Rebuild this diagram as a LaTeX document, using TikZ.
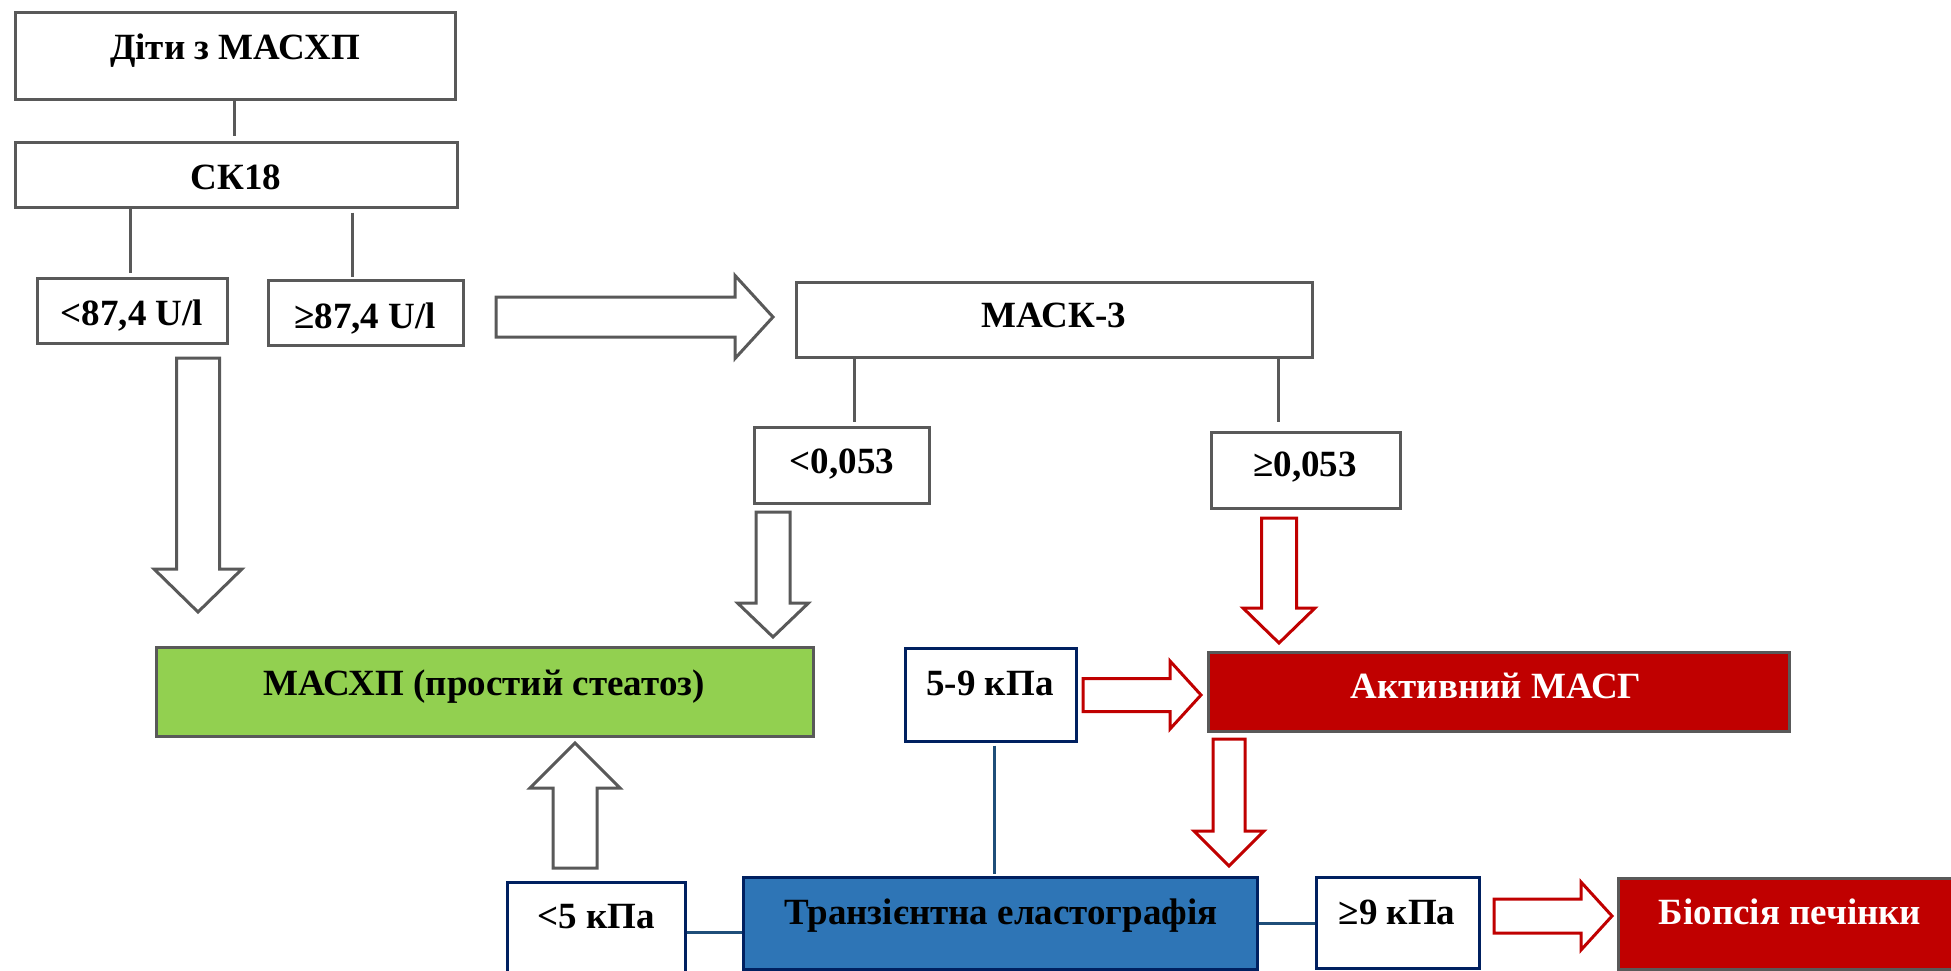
\documentclass[tikz,border=0pt]{standalone}
\usepackage{fontspec}
\setmainfont{Liberation Serif}
\definecolor{gline}{HTML}{595959}
\definecolor{rred}{HTML}{C00000}
\definecolor{gfill}{HTML}{92D050}
\definecolor{tefill}{HTML}{2E75B6}
\definecolor{navy}{HTML}{002060}
\definecolor{bline}{HTML}{1F4E79}
\newcommand\mkbox[6]{\node[#1, minimum width={#5-#3}, minimum height={#6-#4}] (#2) at ({(#3+#5)/2},{(#4+#6)/2}) {};}
% vertical fat arrow: style, cx, ytail, ybase, ytip, shafthalf, headhalf
\newcommand\vfat[7]{\draw[#1] ({#2-#6},{#3}) -- ({#2+#6},{#3}) -- ({#2+#6},{#4}) -- ({#2+#7},{#4}) -- ({#2},{#5}) -- ({#2-#7},{#4}) -- ({#2-#6},{#4}) -- cycle;}
% horizontal fat arrow: style, cy, xtail, xbase, xtip, shafthalf, headhalf
\newcommand\hfat[7]{\draw[#1] ({#3},{#2-#6}) -- ({#3},{#2+#6}) -- ({#4},{#2+#6}) -- ({#4},{#2+#7}) -- ({#5},{#2}) -- ({#4},{#2-#7}) -- ({#4},{#2-#6}) -- cycle;}
\begin{document}
\begin{tikzpicture}[x=1pt,y=-1pt,
  gbox/.style={draw=gline, line width=3pt, fill=white, rectangle, inner sep=0pt},
  nbox/.style={draw=navy, line width=3pt, fill=white, rectangle, inner sep=0pt},
  greenbox/.style={gbox, fill=gfill},
  redbox/.style={gbox, fill=rred},
  tebox/.style={nbox, fill=tefill},
  txt/.style={anchor=base, inner sep=0pt, font=\fontsize{37}{41}\selectfont\bfseries},
  wtxt/.style={txt, text=white},
  conn/.style={draw=gline, line width=3pt},
  bconn/.style={draw=bline, line width=3pt},
  garrow/.style={draw=gline, line width=3pt, fill=white, line join=miter},
  rarrow/.style={draw=rred, line width=3pt, fill=white, line join=miter}]
\useasboundingbox (0,0) rectangle (1951,971);
\clip (0,0) rectangle (1951,971);

% boxes
\mkbox{gbox}{b1}{15}{13}{455}{100}
\mkbox{gbox}{b2}{15}{143}{457}{207}
\mkbox{gbox}{l87}{37}{278}{227}{343}
\mkbox{gbox}{g87}{268}{280}{463}{345}
\mkbox{gbox}{mack}{796}{282}{1312}{357}
\mkbox{gbox}{l053}{754}{427}{929}{503}
\mkbox{gbox}{g053}{1211}{432}{1400}{508}
\mkbox{greenbox}{simple}{156}{647}{813}{736}
\mkbox{nbox}{s59}{905}{648}{1076}{741}
\mkbox{redbox}{active}{1208}{652}{1789}{731}
\mkbox{nbox}{l5}{507}{882}{685}{1010}
\mkbox{tebox}{te}{743}{877}{1257}{969}
\mkbox{nbox}{ge9}{1316}{877}{1479}{968}
\mkbox{redbox}{biop}{1618}{878}{1980}{969}

% texts
\node[txt] (t-b1) at (235,60) {Діти з МАСХП};
\node[txt] (t-b2) at (236,189) {СК18};
\node[txt] (t-l87) at (132,325) {<87,4 U/l};
\node[txt] (t-g87) at (365,328) {≥87,4 U/l};
\node[txt] (t-mack) at (1054,327) {МАСК-3};
\node[txt] (t-l053) at (842,473) {<0,053};
\node[txt] (t-g053) at (1305,476) {≥0,053};
\node[txt] (t-simple) at (484,695) {МАСХП (простий стеатоз)};
\node[txt] (t-s59) at (990,695) {5-9 кПа};
\node[wtxt] (t-active) at (1496,698) {Активний МАСГ};
\node[txt] (t-l5) at (596,928) {<5 кПа};
\node[txt] (t-te) at (1001,924) {Транзієнтна еластографія};
\node[txt] (t-ge9) at (1397,924) {≥9 кПа};
\node[wtxt] (t-biop) at (1790,924) {Біопсія печінки};

% gray connectors
\draw[conn, shorten >=5pt] (b1.south -| 234,0) -- (b2.north -| 234,0);
\draw[conn, shorten >=4pt] ([xshift=-2pt]l87.north |- b2.south) -- ([xshift=-2pt]l87.north);
\draw[conn, shorten <=4pt, shorten >=2pt] ([xshift=-13.5pt]g87.north |- b2.south) -- ([xshift=-13.5pt]g87.north);
\draw[conn, shorten >=4pt] ([xshift=12.5pt]l053.north |- mack.south) -- ([xshift=12.5pt]l053.north);
\draw[conn, shorten >=9pt] ([xshift=-27pt]g053.north |- mack.south) -- ([xshift=-27pt]g053.north);

% blue connectors
\draw[bconn, shorten <=3pt, shorten >=2pt] ([xshift=3.5pt]s59.south) -- ([xshift=3.5pt]s59.south |- te.north);
\draw[bconn] ([yshift=-9pt]te.west) -- ([yshift=-9pt]te.west -| l5.east);
\draw[bconn] (te.east) -- (te.east -| ge9.west);

% fat arrows
\hfat{garrow}{317}{496}{735}{773}{20}{41.5}
\vfat{garrow}{198}{358}{569}{612}{21.5}{44}
\vfat{garrow}{773}{512}{603}{637}{17}{35.5}
\vfat{rarrow}{1279}{518}{608}{643}{17.5}{36}
\hfat{rarrow}{695}{1083}{1170}{1201}{16.5}{34}
\vfat{rarrow}{1229}{739}{831}{866}{16}{35}
\vfat{garrow}{575}{868}{788}{743}{22}{45}
\hfat{rarrow}{916}{1494}{1581}{1612}{17}{34}
\end{tikzpicture}
\end{document}
